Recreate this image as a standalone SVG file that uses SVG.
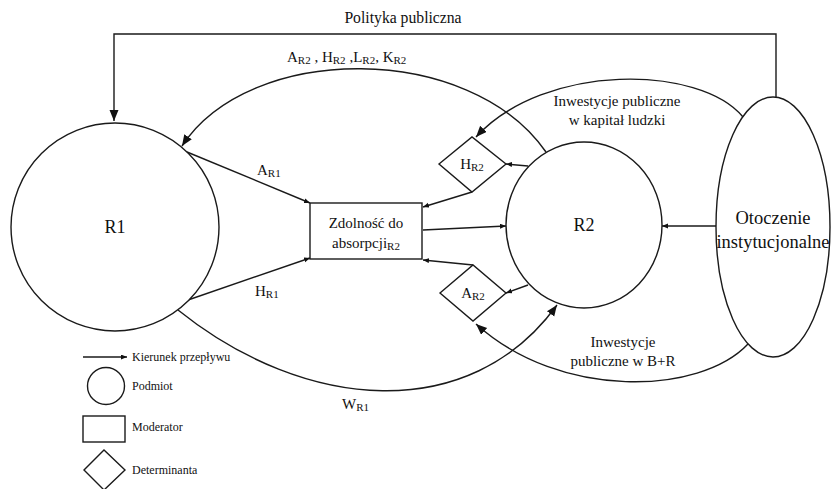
<svg xmlns="http://www.w3.org/2000/svg" width="831" height="489" viewBox="0 0 831 489">
<style>
.s{fill:none;stroke:#1a1a1a;stroke-width:1.4}
.n{fill:#fff;stroke:#1a1a1a;stroke-width:1.4}
text{font-family:"Liberation Serif","Times New Roman",serif;fill:#111}
.t{font-size:15px}
.b{font-size:18px}
.o{font-size:18.5px}
.l{font-size:12px}
.sub{font-size:11px}
</style>
<defs>
<marker id="big" markerUnits="userSpaceOnUse" markerWidth="12" markerHeight="10" refX="11" refY="4.5" orient="auto"><path d="M0,0 L11,4.5 L0,9 z" fill="#111"/></marker>
<marker id="sm" markerUnits="userSpaceOnUse" markerWidth="7" markerHeight="6" refX="6" refY="2.5" orient="auto"><path d="M0,0 L6,2.5 L0,5 z" fill="#111"/></marker>
</defs>

<g id="connectors">
<path class="s" d="M776,97 V34 H114 V121" marker-end="url(#big)"/>
<path class="s" d="M546,152 C470,42 250,42 182,146" marker-end="url(#big)"/>
<path class="s" d="M743,117 C700,65 545,62 476,137" marker-end="url(#big)"/>
<path class="s" d="M748,344 C700,395 560,400 476,324" marker-end="url(#big)"/>
<path class="s" d="M178,310 C305,412 470,425 557,305" marker-end="url(#big)"/>
<path class="s" d="M187,152 L310,203" marker-end="url(#sm)"/>
<path class="s" d="M188,300 L310,258" marker-end="url(#sm)"/>
<path class="s" d="M423,230 L506,226" marker-end="url(#sm)"/>
<path class="s" d="M716,226 L662,226" marker-end="url(#sm)"/>
<path class="s" d="M528,166 L506,164" marker-end="url(#sm)"/>
<path class="s" d="M472,192 L423,207" marker-end="url(#sm)"/>
<path class="s" d="M528,285 L506,293" marker-end="url(#sm)"/>
<path class="s" d="M473,265 L423,260" marker-end="url(#sm)"/>
</g>

<g id="R1"><circle class="n" cx="115" cy="227" r="104"/><text class="b" x="115" y="233" text-anchor="middle">R1</text></g>
<g id="R2"><ellipse class="n" cx="584" cy="225" rx="78" ry="83"/><text class="b" x="584" y="231" text-anchor="middle">R2</text></g>
<g id="otoczenie"><ellipse class="n" cx="773" cy="227" rx="57" ry="130"/>
<text class="o" x="773" y="224" text-anchor="middle">Otoczenie</text>
<text class="o" x="773" y="248" text-anchor="middle">instytucjonalne</text></g>
<g id="zdolnosc"><rect class="n" x="310" y="203" width="112" height="56"/>
<text class="t" x="366" y="228" text-anchor="middle">Zdolność do</text>
<text class="t" x="366" y="248" text-anchor="middle">absorpcji<tspan class="sub" dy="2">R2</tspan></text></g>
<g id="HR2"><path class="n" d="M439,164 L472,137 L506,164 L472,192 z"/><text class="t" x="472" y="169" text-anchor="middle">H<tspan class="sub" dy="2">R2</tspan></text></g>
<g id="AR2"><path class="n" d="M440,293 L473,265 L506,293 L473,321 z"/><text class="t" x="473" y="298" text-anchor="middle">A<tspan class="sub" dy="2">R2</tspan></text></g>

<g id="labels">
<text class="t" x="403" y="23" text-anchor="middle" style="font-size:15.7px">Polityka publiczna</text>
<text class="t" x="287" y="62">A<tspan class="sub" dy="2">R2</tspan><tspan dy="-2"> , H</tspan><tspan class="sub" dy="2">R2</tspan><tspan dy="-2"> ,L</tspan><tspan class="sub" dy="2">R2</tspan><tspan dy="-2">, K</tspan><tspan class="sub" dy="2">R2</tspan></text>
<text class="t" x="617" y="106" text-anchor="middle">Inwestycje publiczne</text>
<text class="t" x="617" y="125" text-anchor="middle">w kapitał ludzki</text>
<text class="t" x="623" y="347" text-anchor="middle">Inwestycje</text>
<text class="t" x="623" y="366" text-anchor="middle">publiczne w B+R</text>
<text class="t" x="257" y="175">A<tspan class="sub" dy="2">R1</tspan></text>
<text class="t" x="255" y="296">H<tspan class="sub" dy="2">R1</tspan></text>
<text class="t" x="342" y="409">W<tspan class="sub" dy="2">R1</tspan></text>
</g>

<g id="legend">
<path class="s" d="M83,357 L127,357" marker-end="url(#sm)"/>
<text class="l" x="132" y="361">Kierunek przepływu</text>
<circle class="n" cx="106" cy="386" r="18.5"/>
<text class="l" x="132" y="390">Podmiot</text>
<rect class="n" x="83" y="416" width="42" height="26"/>
<text class="l" x="132" y="431">Moderator</text>
<path class="n" d="M84,470 L104,450 L125,470 L104,490 z"/>
<text class="l" x="132" y="474">Determinanta</text>
</g>
</svg>
